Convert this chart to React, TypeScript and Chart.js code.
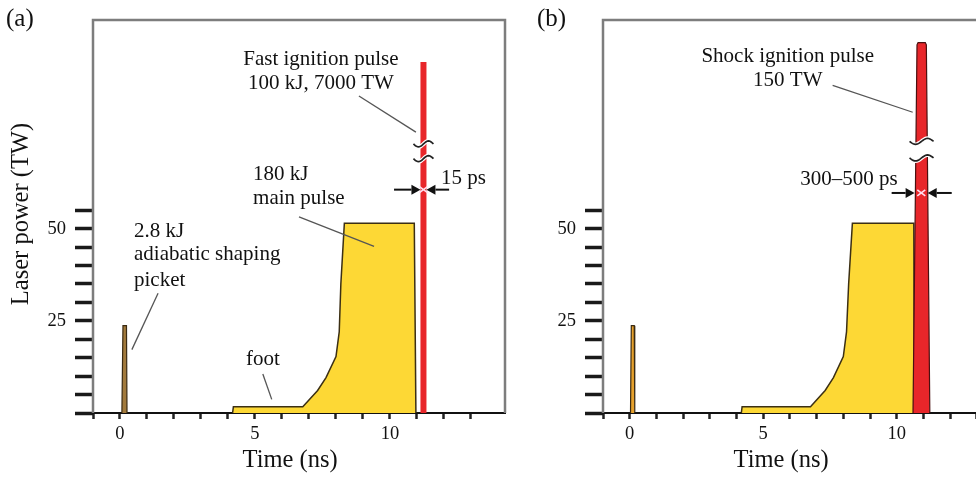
import React, { useEffect, useRef } from "react";
import { Chart, registerables } from "chart.js";
Chart.register(...registerables);

// ---------- data ----------
const xTickValues = [-1, 0, 1, 2, 3, 4, 5, 6, 7, 8, 9, 10, 11, 12, 13];
const xTickLabels = ["0", "5", "10"];
const yTickValues = [0, 5, 10, 15, 20, 25, 30, 35, 40, 45, 50, 55];
const yTickLabels = ["25", "50"];

// Panel (a): fast ignition
const picketTimeA = [0.07, 0.11, 0.24, 0.26];
const picketPowerA = [0, 23.7, 23.7, 0];
const mainTimeA = [4.17, 4.2, 6.77, 7.32, 7.63, 8.0, 8.12, 8.18, 8.31, 10.9, 10.96];
const mainPowerA = [0, 1.7, 1.7, 6.1, 9.6, 15.3, 22, 35, 51.5, 51.5, 0];
const ignitionTimeA = [11.24, 11.24];
const ignitionPowerA = [0, 95.2];

// Panel (b): shock ignition
const picketTimeB = [0.03, 0.06, 0.17, 0.19];
const picketPowerB = [0, 23.7, 23.7, 0];
const mainTimeB = [4.18, 4.21, 6.77, 7.32, 7.63, 8.0, 8.12, 8.2, 8.34, 10.64, 10.66];
const mainPowerB = [0, 1.7, 1.7, 6.1, 9.6, 15.3, 22, 35, 51.5, 51.5, 0];
const ignitionTimeB = [10.61, 10.76, 10.8, 11.07, 11.11, 11.24];
const ignitionPowerB = [0, 99.9, 100.5, 100.5, 99.9, 0];

const pts = (xs: number[], ys: number[]) => xs.map((x, i) => ({ x, y: ys[i] }));

const SERIF = '"Liberation Serif", "Times New Roman", serif';
const YELLOW = "#fdd835";
const OUTLINE = "#3b2f14";
const RED = "#e8262a";
const NOTE = 21;

type Ctx = CanvasRenderingContext2D;

function text(ctx: Ctx, s: string, x: number, y: number, size: number, align: CanvasTextAlign = "left") {
  ctx.save();
  ctx.font = `${size}px ${SERIF}`;
  ctx.fillStyle = "#111";
  ctx.textAlign = align;
  ctx.textBaseline = "middle";
  ctx.fillText(s, x, y);
  ctx.restore();
}

function line(ctx: Ctx, x1: number, y1: number, x2: number, y2: number, color = "#555", w = 1.3) {
  ctx.save();
  ctx.strokeStyle = color;
  ctx.lineWidth = w;
  ctx.beginPath();
  ctx.moveTo(x1, y1);
  ctx.lineTo(x2, y2);
  ctx.stroke();
  ctx.restore();
}

function arrow(ctx: Ctx, x1: number, y: number, x2: number) {
  const dir = Math.sign(x2 - x1);
  const head = 9;
  ctx.save();
  ctx.strokeStyle = "#111";
  ctx.fillStyle = "#111";
  ctx.lineWidth = 2;
  ctx.beginPath();
  ctx.moveTo(x1, y);
  ctx.lineTo(x2 - dir * head, y);
  ctx.stroke();
  ctx.beginPath();
  ctx.moveTo(x2, y);
  ctx.lineTo(x2 - dir * head, y - 5);
  ctx.lineTo(x2 - dir * head, y + 5);
  ctx.closePath();
  ctx.fill();
  ctx.restore();
}

function tildePath(ctx: Ctx, cx: number, y: number, half: number, amp: number) {
  ctx.beginPath();
  for (let i = 0; i <= 20; i++) {
    const t = -1 + (2 * i) / 20;
    const px = cx + t * half;
    const py = y - amp * Math.sin(Math.PI * t);
    if (i === 0) ctx.moveTo(px, py);
    else ctx.lineTo(px, py);
  }
}

function tilde(ctx: Ctx, cx: number, y: number, half = 10) {
  ctx.save();
  tildePath(ctx, cx, y, half, 3);
  ctx.strokeStyle = "#fff";
  ctx.lineWidth = 4;
  ctx.stroke();
  tildePath(ctx, cx, y, half, 3);
  ctx.strokeStyle = "#222";
  ctx.lineWidth = 1.7;
  ctx.stroke();
  ctx.restore();
}

function whiteX(ctx: Ctx, cx: number, cy: number) {
  ctx.save();
  ctx.strokeStyle = "#fde";
  ctx.lineWidth = 1.6;
  ctx.beginPath();
  ctx.moveTo(cx - 4, cy - 3);
  ctx.lineTo(cx + 4, cy + 3);
  ctx.moveTo(cx - 4, cy + 3);
  ctx.lineTo(cx + 4, cy - 3);
  ctx.stroke();
  ctx.restore();
}

function drawFrame(chart: any) {
  const { ctx, chartArea } = chart;
  ctx.save();
  ctx.strokeStyle = "#7d7d7d";
  ctx.lineWidth = 2.5;
  ctx.beginPath();
  ctx.moveTo(chartArea.left, chartArea.bottom);
  ctx.lineTo(chartArea.left, chartArea.top);
  ctx.lineTo(chartArea.right, chartArea.top);
  ctx.lineTo(chartArea.right, chartArea.bottom);
  ctx.stroke();
  ctx.restore();
}

function drawPanelA(chart: any) {
  const ctx: Ctx = chart.ctx;
  const X = (v: number) => chart.scales.x.getPixelForValue(v);
  const Y = (v: number) => chart.scales.y.getPixelForValue(v);
  text(ctx, "(a)", 6, 19, 25);
  // axis titles
  ctx.save();
  ctx.translate(22, 214);
  ctx.rotate(-Math.PI / 2);
  text(ctx, "Laser power (TW)", 0, 0, 24.5, "center");
  ctx.restore();
  text(ctx, "Time (ns)", X(6.3), 461, 24.5, "center");

  // broken-axis marks on the ignition pulse
  const px = X(ignitionTimeA[0]);
  tilde(ctx, px, Y(73.0));
  tilde(ctx, px, Y(69.0));

  text(ctx, "Fast ignition pulse", X(7.44), Y(96.0), NOTE, "center");
  text(ctx, "100 kJ, 7000 TW", X(7.44), Y(89.4), NOTE, "center");
  line(ctx, X(8.85), Y(86.0), X(10.96), Y(76.2));

  text(ctx, "180 kJ", X(4.93), Y(64.8), NOTE);
  text(ctx, "main pulse", X(4.93), Y(58.2), NOTE);
  line(ctx, X(6.63), Y(53.2), X(9.41), Y(45.2));

  text(ctx, "2.8 kJ", X(0.52), Y(49.2), NOTE);
  text(ctx, "adiabatic shaping", X(0.52), Y(43.1), NOTE);
  text(ctx, "picket", X(0.52), Y(36.0), NOTE);
  line(ctx, X(1.41), Y(32.5), X(0.44), Y(17.2));

  text(ctx, "foot", X(4.67), Y(14.6), NOTE);
  line(ctx, X(5.29), Y(10.6), X(5.62), Y(3.7));

  text(ctx, "15 ps", X(11.89), Y(63.5), NOTE);
  const ay = Y(60.6);
  arrow(ctx, X(10.15), ay, px - 3);
  arrow(ctx, X(12.19), ay, px + 3);
  whiteX(ctx, px, ay);
}

function drawPanelB(chart: any) {
  const ctx: Ctx = chart.ctx;
  const X = (v: number) => chart.scales.x.getPixelForValue(v);
  const Y = (v: number) => chart.scales.y.getPixelForValue(v);
  text(ctx, "(b)", 27, 19, 25);
  text(ctx, "Time (ns)", X(5.67), 461, 24.5, "center");

  // break in the shock pulse
  const y1 = Y(73.7), y2 = Y(69.2);
  const cx = X(10.93);
  ctx.save();
  ctx.fillStyle = "#fff";
  ctx.beginPath();
  for (let i = 0; i <= 20; i++) {
    const t = -1 + (2 * i) / 20;
    ctx.lineTo(cx + t * 12, y1 - 3 * Math.sin(Math.PI * t));
  }
  for (let i = 20; i >= 0; i--) {
    const t = -1 + (2 * i) / 20;
    ctx.lineTo(cx + t * 12, y2 - 3 * Math.sin(Math.PI * t));
  }
  ctx.closePath();
  ctx.fill();
  ctx.restore();
  tilde(ctx, cx, y1, 12);
  tilde(ctx, cx, y2, 12);

  text(ctx, "Shock ignition pulse", X(5.92), Y(96.8), NOTE, "center");
  text(ctx, "150 TW", X(5.92), Y(90.3), NOTE, "center");
  line(ctx, X(7.6), Y(88.9), X(10.6), Y(81.6));

  text(ctx, "300\u2013500 ps", X(10.04), Y(63.4), NOTE, "right");
  const ay = Y(59.7);
  arrow(ctx, X(9.81), ay, X(10.67));
  arrow(ctx, X(12.06), ay, X(11.16));
  whiteX(ctx, X(10.92), ay);
}

function makeConfig(panel: "a" | "b"): any {
  const isA = panel === "a";
  const datasets = [
    {
      data: isA ? pts(ignitionTimeA, ignitionPowerA) : pts(ignitionTimeB, ignitionPowerB),
      borderColor: isA ? RED : "#4a1010",
      borderWidth: isA ? 6 : 1.2,
      backgroundColor: RED,
      fill: isA ? false : "origin",
      borderCapStyle: "butt",
      order: 0,
    },
    {
      data: isA ? pts(mainTimeA, mainPowerA) : pts(mainTimeB, mainPowerB),
      borderColor: OUTLINE,
      borderWidth: 1.5,
      backgroundColor: YELLOW,
      fill: "origin",
      order: 1,
    },
    {
      data: isA ? pts(picketTimeA, picketPowerA) : pts(picketTimeB, picketPowerB),
      borderColor: "#3a2a12",
      borderWidth: 1.2,
      backgroundColor: isA ? "#a27a3c" : "#e6a12c",
      fill: "origin",
      order: 2,
    },
  ].map((d) => ({ ...d, pointRadius: 0, tension: 0, showLine: true }));

  return {
    type: "line",
    data: { datasets },
    options: {
      responsive: false,
      animation: false,
      events: [],
      layout: { padding: { left: 0, top: 10, right: 5, bottom: 0 } },
      plugins: { legend: { display: false }, tooltip: { enabled: false } },
      scales: {
        x: {
          type: "linear",
          min: -1,
          max: isA ? 14.26 : 14.43,
          z: 1,
          afterFit: (s: any) => { s.height = 64; },
          afterBuildTicks: (s: any) => { s.ticks = xTickValues.map((v) => ({ value: v })); },
          ticks: {
            autoSkip: false,
            maxRotation: 0,
            padding: 4,
            color: "#111",
            font: { family: SERIF, size: 18.5 },
            callback: (v: number) => (xTickLabels.includes(String(v)) ? String(v) : ""),
          },
          grid: { drawOnChartArea: false, drawTicks: true, tickLength: 6, tickWidth: 2.5, tickColor: "#222" },
          border: { display: true, color: "#111", width: 2 },
        },
        y: {
          type: "linear",
          min: 0,
          max: 106.6,
          afterFit: (s: any) => { s.width = 93; },
          afterBuildTicks: (s: any) => { s.ticks = yTickValues.map((v) => ({ value: v })); },
          ticks: {
            autoSkip: false,
            padding: 9,
            color: "#111",
            font: { family: SERIF, size: 18.5 },
            callback: (v: number) => (yTickLabels.includes(String(v)) ? String(v) : ""),
          },
          grid: { drawOnChartArea: false, drawTicks: true, tickLength: 18, tickWidth: 3.5, tickColor: "#1a1a1a" },
          border: { display: false },
        },
      },
    },
    plugins: [
      {
        id: "frameAndNotes" + panel,
        beforeDatasetsDraw: (chart: any) => drawFrame(chart),
        afterDraw: (chart: any) => (isA ? drawPanelA(chart) : drawPanelB(chart)),
      },
    ],
  };
}

function Panel({ panel, left }: { panel: "a" | "b"; left: number }) {
  const ref = useRef<HTMLCanvasElement>(null);
  useEffect(() => {
    if (!ref.current) return;
    const chart = new Chart(ref.current, makeConfig(panel));
    return () => chart.destroy();
  }, [panel]);
  return (
    <canvas
      ref={ref}
      width={510}
      height={477}
      style={{ position: "absolute", left, top: 0, width: 510, height: 477 }}
    />
  );
}

export default function App() {
  return (
    <div
      style={{
        position: "absolute",
        left: 0,
        top: 0,
        width: 976,
        height: 477,
        overflow: "hidden",
        background: "#fff",
      }}
    >
      <Panel panel="a" left={0} />
      <Panel panel="b" left={510} />
    </div>
  );
}
